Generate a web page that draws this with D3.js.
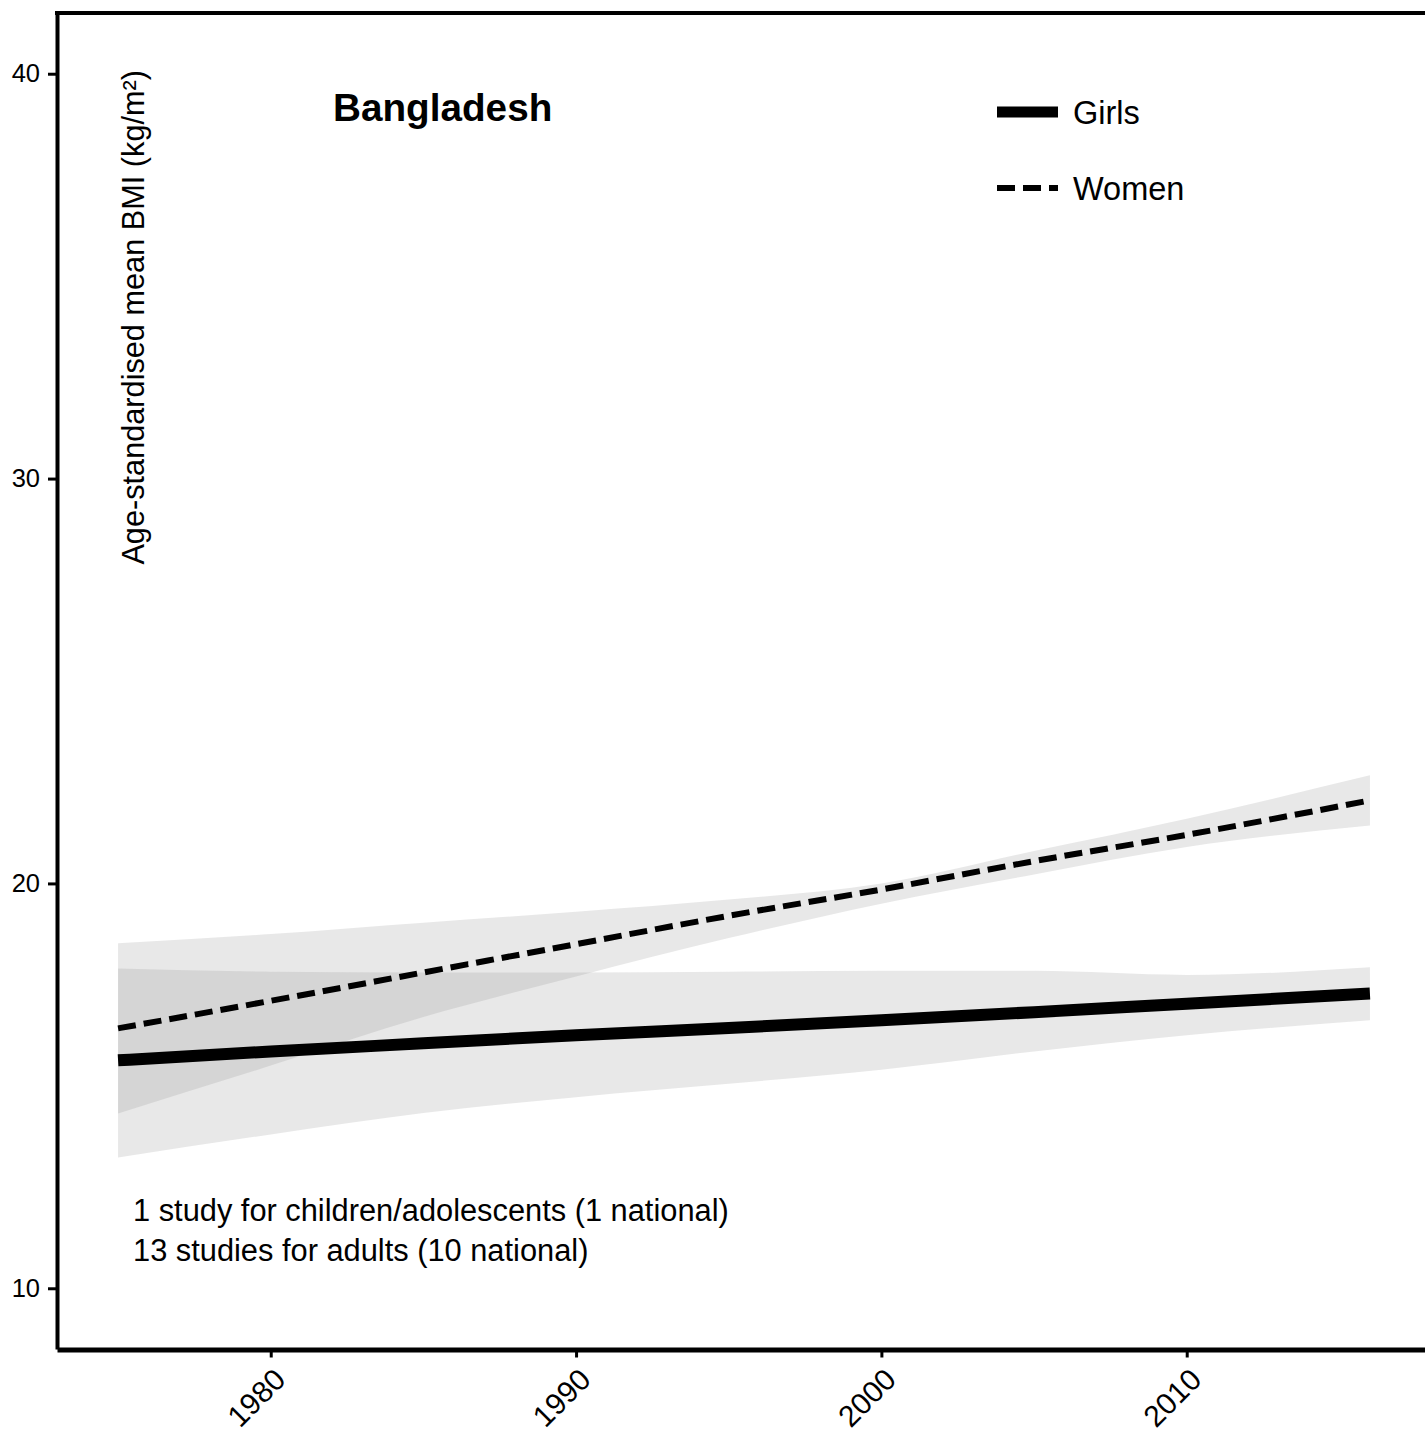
<!DOCTYPE html>
<html>
<head>
<meta charset="utf-8">
<script src="https://cdn.jsdelivr.net/npm/d3@7"></script>
<style>
  html, body { margin: 0; padding: 0; background: #fff; overflow: hidden; }
  svg { display: block; }
  text { font-family: "Liberation Sans", Arial, Helvetica, sans-serif; fill: #000; }
</style>
</head>
<body>
<svg id="chart" width="1425" height="1453"></svg>
<script>
// ---- data ----
const years = [1975, 1980, 1985, 1990, 1995, 2000, 2005, 2010, 2016];
const girlsMean  = [15.63, 15.85, 16.05, 16.25, 16.43, 16.62, 16.82, 17.03, 17.28];
const girlsLower = [13.23, 13.80, 14.33, 14.72, 15.05, 15.40, 15.85, 16.25, 16.62];
const girlsUpper = [17.90, 17.82, 17.80, 17.80, 17.82, 17.84, 17.84, 17.74, 17.93];
const womenMean  = [16.42, 17.10, 17.80, 18.50, 19.20, 19.85, 20.55, 21.20, 22.05];
const womenLower = [14.32, 15.50, 16.70, 17.70, 18.65, 19.50, 20.22, 20.90, 21.43];
const womenUpper = [18.52, 18.75, 19.03, 19.30, 19.60, 20.00, 20.80, 21.60, 22.67];
const xTicks = [1980, 1990, 2000, 2010];
const yTicks = [10, 20, 30, 40];
const seriesNames = ["Girls", "Women"];
const titleText = "Bangladesh";
const yTitle = "Age-standardised mean BMI (kg/m²)";
const notes = ["1 study for children/adolescents (1 national)", "13 studies for adults (10 national)"];

// ---- layout ----
const svg = d3.select("#chart");
const x = d3.scaleLinear().domain([1973, 2020]).range([57, 57 + 47 * 30.533]);
const y = d3.scaleLinear().domain([8.5, 41.5]).range([1349, 13]);

const toRows = (m, lo, hi) => years.map((yr, i) => ({ yr, m: m[i], lo: lo[i], hi: hi[i] }));
const girls = toRows(girlsMean, girlsLower, girlsUpper);
const women = toRows(womenMean, womenLower, womenUpper);

const curve = d3.curveMonotoneX;
const area = d3.area().x(d => x(d.yr)).y0(d => y(d.lo)).y1(d => y(d.hi)).curve(curve);
const line = d3.line().x(d => x(d.yr)).y(d => y(d.m)).curve(curve);

// bands
[women, girls].forEach(s => {
  svg.append("path").datum(s).attr("d", area)
    .attr("fill", "rgb(140,140,140)").attr("fill-opacity", 0.2);
});

// lines
svg.append("path").datum(women).attr("d", line)
  .attr("fill", "none").attr("stroke", "#000").attr("stroke-width", 6)
  .attr("stroke-dasharray", "18,8");
svg.append("path").datum(girls).attr("d", line)
  .attr("fill", "none").attr("stroke", "#000").attr("stroke-width", 12);

// axes
const yAxis = d3.axisLeft(y).tickValues(yTicks).tickSize(9).tickSizeOuter(0).tickPadding(8);
const gy = svg.append("g").attr("transform", "translate(57,0)").call(yAxis);
gy.select(".domain").attr("stroke", "#000").attr("stroke-width", 4);
gy.selectAll(".tick line").attr("stroke", "#000").attr("stroke-width", 3);
gy.selectAll(".tick text").attr("font-size", 25.5).attr("fill", "#000")
  .attr("font-family", "'Liberation Sans', Arial, Helvetica, sans-serif");

const xAxis = d3.axisBottom(x).tickValues(xTicks).tickSize(8).tickSizeOuter(0).tickFormat(d3.format("d"));
const gx = svg.append("g").attr("transform", "translate(0,1349.5)").call(xAxis);
gx.select(".domain").attr("stroke", "#000").attr("stroke-width", 5);
gx.selectAll(".tick line").attr("stroke", "#000").attr("stroke-width", 3);
gx.selectAll(".tick text")
  .attr("font-size", 30).attr("fill", "#000")
  .attr("font-family", "'Liberation Sans', Arial, Helvetica, sans-serif")
  .attr("text-anchor", "end").attr("dy", null).attr("y", null)
  .attr("transform", "translate(16,32) rotate(-45)");

// top border
svg.append("line").attr("x1", 55).attr("x2", 1425).attr("y1", 13).attr("y2", 13)
  .attr("stroke", "#000").attr("stroke-width", 4);

// y title
svg.append("text").attr("transform", "translate(144,70) rotate(-90)")
  .attr("text-anchor", "end").attr("font-size", 30.7).text(yTitle);

// title
svg.append("text").attr("x", 333).attr("y", 121).attr("font-size", 38.7)
  .attr("font-weight", "bold").text(titleText);

// legend
const legend = svg.append("g");
const legY = [112, 188];
seriesNames.forEach((name, i) => {
  const ln = legend.append("line").attr("x1", 997).attr("x2", 1058)
    .attr("y1", legY[i]).attr("y2", legY[i]).attr("stroke", "#000")
    .attr("stroke-width", i === 0 ? 11 : 6);
  if (i === 1) ln.attr("stroke-dasharray", "18,8");
  legend.append("text").attr("x", 1073).attr("y", legY[i] + 12)
    .attr("font-size", 32.5).text(name);
});

// notes
notes.forEach((t, i) => {
  svg.append("text").attr("x", 133).attr("y", 1221 + i * 40)
    .attr("font-size", 30.8).text(t);
});
</script>
</body>
</html>
